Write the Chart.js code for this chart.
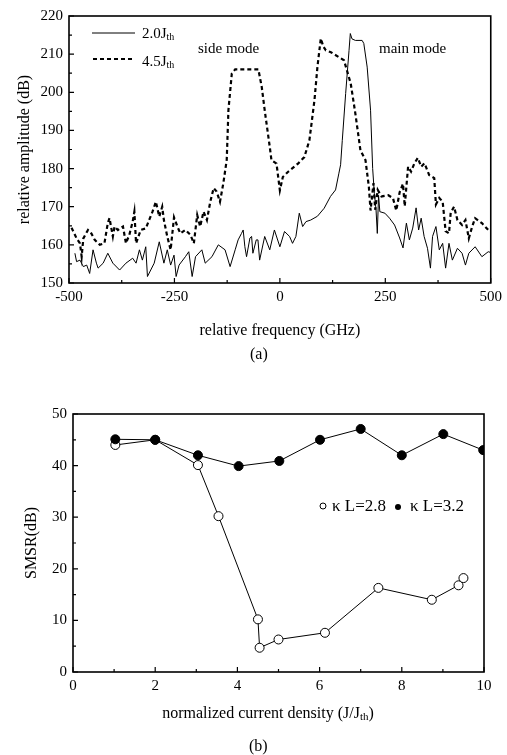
<!DOCTYPE html>
<html>
<head>
<meta charset="utf-8">
<script src="https://cdn.jsdelivr.net/npm/chart.js@4.4.0/dist/chart.umd.min.js"></script>
<style>
  body { margin: 0; background: #fff; }
  #wrap { position: relative; width: 507px; height: 755px; background: #fff; }
  canvas { position: absolute; left: 0; }
  .cap { position: absolute; font: 16px 'Liberation Serif', serif; color: #000; }
</style>
</head>
<body>
<div id="wrap">
  <canvas id="chartA" width="507" height="380" style="top:0"></canvas>
  <canvas id="chartB" width="507" height="375" style="top:380px"></canvas>
  <div class="cap" style="left:250px;top:345px">(a)</div>
  <div class="cap" style="left:249px;top:737px">(b)</div>
</div>
<script>
// (a) spectrum, 2.0 Jth (solid)
const freq20 = [-486, -482, -474, -466, -458, -451, -443, -435, -431, -419, -408, -396, -380, -365, -349, -341,
  -333, -326, -318, -314, -298, -286, -275, -267, -259, -251, -246, -239, -224, -216, -208, -200, -185, -177,
  -161, -146, -130, -118, -106, -99, -91, -87, -83, -79, -71, -67, -64, -56, -52, -48, -36, -24, -13, 0, 11,
  23, 30, 38, 46, 54, 62, 73, 89, 105, 120, 132, 140, 144, 148, 156, 164, 167, 171, 179, 195, 199, 207, 215,
  220, 224, 228, 231, 234, 237, 249, 260, 272, 284, 292, 300, 307, 315, 323, 329, 335, 342, 350, 357, 362,
  370, 378, 386, 393, 401, 409, 421, 432, 440, 448, 463, 479, 494, 500];
const amp20 = [157.8, 155.6, 156, 154.3, 154.7, 152.5, 158.7, 155.2, 153.9, 155.2, 157.8, 155.2, 153.4, 155.2,
  156.5, 155.2, 158.7, 156, 159.5, 151.7, 155.2, 160.8, 155.2, 158.7, 154.7, 157.3, 151.7, 154.7, 156.9, 158.2,
  151.7, 156.9, 158.7, 155.2, 156.9, 160, 158.7, 154.3, 158.7, 161.3, 163, 163.9, 159.5, 156.9, 161.8, 162.2,
  157.8, 161.3, 161.3, 156, 162.2, 158.7, 163.9, 159.5, 163.5, 162.2, 160.4, 162.2, 168.3, 164.8, 166.1,
  166.5, 167.5, 169.6, 172.7, 174.4, 178.8, 181, 187.4, 199.7, 211, 215.4, 214, 213.6, 213.6, 212.8, 206.6,
  195.3, 180, 173.5, 169.2, 163, 173, 168.7, 168.3, 167, 165.2, 161.8, 159.2, 165.7, 161.3, 164.4, 169.7,
  163.9, 167, 162.2, 159.1, 153.9, 162.2, 164.8, 158.7, 160.4, 153.9, 160.4, 156, 159.1, 157.8, 154.7, 157.8,
  159.5, 156.9, 158.2, 158];

// (a) spectrum, 4.5 Jth (dashed)
const freq45 = [-494, -482, -474, -470, -466, -455, -447, -439, -427, -416, -408, -404, -396, -392, -384, -372,
  -365, -357, -349, -345, -341, -330, -318, -310, -302, -294, -286, -279, -275, -267, -259, -251, -243, -236,
  -224, -212, -204, -196, -189, -181, -173, -165, -157, -150, -142, -134, -126, -122, -114, -106, -51, -43,
  -36, -24, -20, -8, 0, 7, 19, 43, 58, 70, 82, 89, 97, 103, 109, 121, 152, 168, 179, 191, 203, 211, 215, 222,
  226, 232, 241, 257, 268, 276, 284, 292, 296, 304, 311, 319, 327, 335, 343, 354, 366, 370, 378, 386, 393,
  401, 405, 413, 421, 432, 440, 448, 456, 463, 479, 494, 500];
const amp45 = [164.5, 161.7, 160.4, 156.9, 161.7, 163.9, 163, 161.3, 160, 160.4, 165.7, 167, 162.2, 164.8, 163.9,
  164.8, 160.4, 162.6, 166.1, 168.7, 160.4, 163.9, 164.3, 166.5, 168.7, 171.3, 167.4, 170, 166.5, 162.2, 158.7,
  167.2, 164.8, 163, 163.9, 162.6, 160.4, 167.8, 164.8, 168.7, 166.5, 171.3, 174.9, 174, 171.3, 176.2, 182.3,
  195.3, 204.9, 206, 206, 201.4, 195.3, 185.7, 182.2, 181.3, 174.3, 177.8, 179.1, 181.3, 183, 187.4, 197.9,
  206.6, 214.1, 212, 211, 210.5, 208.4, 202.3, 194.4, 184.8, 182.2, 175.2, 169, 176.2, 169.2, 174.4, 172.7,
  173, 172.3, 169, 173.8, 176, 170.1, 180.5, 179.2, 181.4, 182.8, 180.5, 181.4, 178.3, 177.5, 170.6, 172.3,
  171.3, 163.6, 163, 168.4, 170, 166.5, 165.2, 166.5, 161.7, 164.8, 167, 165.7, 163.9, 164.2];

// (b) SMSR vs normalized current density
const jHigh = [1.03, 2.0, 3.04, 4.03, 5.02, 6.01, 7.0, 8.0, 9.01, 9.98];
const smsrHigh = [45.1, 45, 42, 39.9, 40.9, 45, 47.1, 42, 46.1, 43];
const jLow = [1.03, 2.0, 3.04, 3.54, 4.5, 4.54, 5.0, 6.13, 7.43, 8.73, 9.38, 9.5];
const smsrLow = [44, 45, 40.1, 30.2, 10.2, 4.7, 6.3, 7.6, 16.3, 14, 16.8, 18.2];

const serif = "'Liberation Serif', 'Times New Roman', serif";

function toPoints(xs, ys) {
  return xs.map((x, i) => ({ x: x, y: ys[i] }));
}

// text with a small lowered suffix, e.g. J + th
function subText(ctx, parts, x, y, size, center) {
  const small = Math.round(size * 0.68);
  let w = 0;
  parts.forEach(p => {
    ctx.font = (p.sub ? small : size) + 'px ' + serif;
    w += ctx.measureText(p.t).width;
  });
  let cx = center ? x - w / 2 : x;
  ctx.textAlign = 'left';
  ctx.textBaseline = 'alphabetic';
  parts.forEach(p => {
    ctx.font = (p.sub ? small : size) + 'px ' + serif;
    ctx.fillText(p.t, cx, y + (p.sub ? size * 0.12 : 0));
    cx += ctx.measureText(p.t).width;
  });
}

// box round the plot and inward ticks on left and bottom
const framePlugin = {
  id: 'frame',
  afterDatasetsDraw(chart, args, opts) {
    const { ctx, chartArea: a } = chart;
    const x = chart.scales.x, y = chart.scales.y;
    ctx.save();
    ctx.strokeStyle = '#000';
    ctx.lineWidth = 1.6;
    ctx.strokeRect(a.left, a.top, a.width, a.height);
    ctx.lineWidth = 1.2;
    ctx.beginPath();
    for (let v = x.min; v <= x.max + 1e-9; v += opts.xMinor) {
      const px = x.getPixelForValue(v);
      const major = Math.abs(v / opts.xMajor - Math.round(v / opts.xMajor)) < 1e-6;
      ctx.moveTo(px, a.bottom);
      ctx.lineTo(px, a.bottom - (major ? 5 : 3));
    }
    for (let v = y.min; v <= y.max + 1e-9; v += opts.yMinor) {
      const py = y.getPixelForValue(v);
      const major = Math.abs(v / opts.yMajor - Math.round(v / opts.yMajor)) < 1e-6;
      ctx.moveTo(a.left, py);
      ctx.lineTo(a.left + (major ? 5 : 3), py);
    }
    ctx.stroke();
    ctx.restore();
  }
};

const tickFont = { family: serif, size: 15 };

new Chart(document.getElementById('chartA'), {
  type: 'line',
  data: {
    datasets: [
      {
        label: '2.0Jth',
        data: toPoints(freq20, amp20),
        borderColor: '#000',
        borderWidth: 1,
        pointRadius: 0,
        tension: 0
      },
      {
        label: '4.5Jth',
        data: toPoints(freq45, amp45),
        borderColor: '#000',
        borderWidth: 2.2,
        borderDash: [4, 3],
        pointRadius: 0,
        tension: 0
      }
    ]
  },
  options: {
    responsive: false,
    animation: false,
    layout: { padding: { top: 16, right: 12, left: 0, bottom: 0 } },
    plugins: {
      legend: { display: false },
      tooltip: { enabled: false },
      frame: { xMajor: 250, xMinor: 125, yMajor: 10, yMinor: 5 }
    },
    scales: {
      x: {
        type: 'linear',
        min: -500,
        max: 500,
        grid: { display: false, drawTicks: false },
        border: { display: false },
        ticks: { stepSize: 250, color: '#000', font: tickFont, padding: 5, maxRotation: 0 },
        title: {
          display: true,
          text: 'relative frequency (GHz)',
          color: '#000',
          font: { family: serif, size: 16 },
          padding: { top: 0, bottom: 40 }
        },
        afterFit(scale) { scale.height = 97; }
      },
      y: {
        min: 150,
        max: 220,
        grid: { display: false, drawTicks: false },
        border: { display: false },
        ticks: { stepSize: 10, color: '#000', font: tickFont, padding: 6 },
        title: {
          display: true,
          text: 'relative amplitude (dB)',
          color: '#000',
          font: { family: serif, size: 16 },
          padding: { top: 15, bottom: 0 }
        },
        afterFit(scale) { scale.width = 69; }
      }
    }
  },
  plugins: [framePlugin, {
    id: 'notesA',
    afterDraw(chart) {
      const { ctx, chartArea: a } = chart;
      ctx.save();
      ctx.strokeStyle = '#000';
      ctx.fillStyle = '#000';
      ctx.lineWidth = 1;
      ctx.beginPath();
      ctx.moveTo(a.left + 23, a.top + 17);
      ctx.lineTo(a.left + 66, a.top + 17);
      ctx.stroke();
      ctx.lineWidth = 2.2;
      ctx.setLineDash([4, 3]);
      ctx.beginPath();
      ctx.moveTo(a.left + 24, a.top + 43);
      ctx.lineTo(a.left + 63, a.top + 43);
      ctx.stroke();
      ctx.setLineDash([]);
      subText(ctx, [{ t: '2.0J' }, { t: 'th', sub: true }], a.left + 73, a.top + 22, 15, false);
      subText(ctx, [{ t: '4.5J' }, { t: 'th', sub: true }], a.left + 73, a.top + 50, 15, false);
      ctx.font = '15px ' + serif;
      ctx.textBaseline = 'middle';
      ctx.fillText('side mode', a.left + 129, a.top + 33);
      ctx.fillText('main mode', a.left + 310, a.top + 33);
      ctx.restore();
    }
  }]
});

new Chart(document.getElementById('chartB'), {
  type: 'line',
  data: {
    datasets: [
      {
        label: 'κL=3.2',
        data: toPoints(jHigh, smsrHigh),
        borderColor: '#000',
        borderWidth: 1,
        pointRadius: 4.5,
        pointBackgroundColor: '#000',
        pointBorderColor: '#000',
        pointBorderWidth: 1,
        tension: 0
      },
      {
        label: 'κL=2.8',
        data: toPoints(jLow, smsrLow),
        borderColor: '#000',
        borderWidth: 1,
        pointRadius: 4.5,
        pointBackgroundColor: '#fff',
        pointBorderColor: '#000',
        pointBorderWidth: 1,
        tension: 0
      }
    ]
  },
  options: {
    responsive: false,
    animation: false,
    layout: { padding: { top: 34, right: 23, left: 0, bottom: 0 } },
    plugins: {
      legend: { display: false },
      tooltip: { enabled: false },
      frame: { xMajor: 2, xMinor: 1, yMajor: 10, yMinor: 5 }
    },
    scales: {
      x: {
        type: 'linear',
        min: 0,
        max: 10,
        grid: { display: false, drawTicks: false },
        border: { display: false },
        ticks: { stepSize: 2, color: '#000', font: tickFont, padding: 5, maxRotation: 0 },
        title: { display: false },
        afterFit(scale) { scale.height = 83; }
      },
      y: {
        min: 0,
        max: 50,
        grid: { display: false, drawTicks: false },
        border: { display: false },
        ticks: { stepSize: 10, color: '#000', font: tickFont, padding: 6 },
        title: {
          display: true,
          text: 'SMSR(dB)',
          color: '#000',
          font: { family: serif, size: 16 },
          padding: { top: 22, bottom: 0 }
        },
        afterFit(scale) { scale.width = 73; }
      }
    }
  },
  plugins: [framePlugin, {
    id: 'notesB',
    afterDraw(chart) {
      const { ctx, chartArea: a } = chart;
      ctx.save();
      ctx.strokeStyle = '#000';
      ctx.fillStyle = '#000';
      ctx.lineWidth = 1;
      ctx.beginPath();
      ctx.arc(a.left + 250, a.top + 92, 3, 0, Math.PI * 2);
      ctx.stroke();
      ctx.beginPath();
      ctx.arc(a.left + 325, a.top + 93, 3, 0, Math.PI * 2);
      ctx.fill();
      ctx.font = '17px ' + serif;
      ctx.textBaseline = 'middle';
      ctx.fillText('κ L=2.8', a.left + 259, a.top + 93);
      ctx.fillText('κ L=3.2', a.left + 337, a.top + 93);
      subText(ctx, [{ t: 'normalized current density (J/J' }, { t: 'th', sub: true }, { t: ')' }],
        a.left + 195, a.bottom + 46, 16, true);
      ctx.restore();
    }
  }]
});
</script>
</body>
</html>
